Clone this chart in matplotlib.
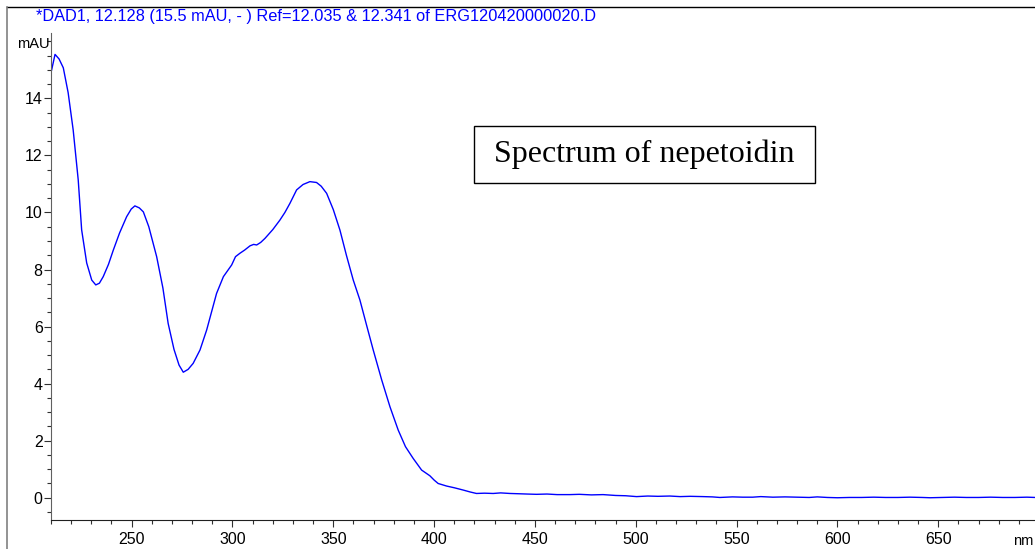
import matplotlib
matplotlib.use("Agg")
import matplotlib.pyplot as plt
from matplotlib.ticker import MultipleLocator
from matplotlib.lines import Line2D
from matplotlib.patches import Rectangle

# ---- data ----
wavelength = [210.3, 212.0, 214.0, 216.1, 218.5, 221.0, 223.5, 225.2, 227.7, 230.2,
              232.2, 234.0, 235.9, 238.5, 240.9, 244.0, 247.5, 249.8, 251.6, 253.8,
              255.8, 258.5, 262.4, 265.5, 268.1, 271.0, 273.5, 275.6, 278.0, 280.5,
              283.9, 287.2, 292.1, 295.5, 299.6, 301.5, 303.7, 306.0, 308.7, 310.5,
              312.0, 314.0, 316.1, 320.0, 323.5, 326.0, 328.5, 331.8, 335.0, 338.4,
              341.7, 344.0, 346.7, 350.0, 353.3, 356.5, 359.9, 363.2, 366.5, 369.8,
              374.0, 378.1, 382.2, 385.8, 389.6, 393.8, 397.9, 400.0, 402.0, 406.2,
              410.0, 414.4, 418.0, 421.0, 425.0, 429.3, 433.0, 437.6, 442.0, 446.0,
              450.8, 456.0, 461.0, 467.3, 472.0, 478.0, 483.8, 490.0, 495.0, 500.4,
              506.0, 511.0, 516.9, 522.0, 527.0, 533.4, 538.0, 541.7, 548.0, 553.0,
              558.0, 562.0, 568.0, 574.0, 580.0, 586.0, 590.0, 595.0, 600.0, 606.0,
              612.0, 618.0, 624.0, 630.0, 636.0, 642.0, 646.0, 652.0, 658.0, 664.0,
              670.0, 676.0, 682.0, 688.0, 694.0, 698.0]
absorbance = [14.99, 15.54, 15.38, 15.07, 14.20, 12.89, 11.14, 9.39, 8.23, 7.63,
              7.46, 7.52, 7.75, 8.18, 8.68, 9.28, 9.85, 10.12, 10.23, 10.16,
              10.02, 9.50, 8.45, 7.35, 6.11, 5.20, 4.65, 4.40, 4.50, 4.71,
              5.18, 5.88, 7.16, 7.75, 8.16, 8.45, 8.57, 8.68, 8.83, 8.88,
              8.86, 8.95, 9.09, 9.40, 9.73, 10.00, 10.32, 10.79, 10.98, 11.08,
              11.05, 10.92, 10.67, 10.10, 9.38, 8.50, 7.63, 6.93, 6.05, 5.18,
              4.13, 3.19, 2.37, 1.79, 1.38, 0.97, 0.77, 0.62, 0.50, 0.41,
              0.35, 0.27, 0.20, 0.15, 0.16, 0.15, 0.17, 0.15, 0.14, 0.13,
              0.12, 0.13, 0.11, 0.11, 0.12, 0.10, 0.11, 0.08, 0.07, 0.04,
              0.06, 0.05, 0.06, 0.04, 0.05, 0.04, 0.03, 0.01, 0.03, 0.02,
              0.02, 0.04, 0.02, 0.03, 0.02, 0.01, 0.03, 0.01, 0.00, 0.01,
              0.01, 0.02, 0.01, 0.01, 0.02, 0.01, 0.00, 0.01, 0.02, 0.01,
              0.01, 0.02, 0.01, 0.01, 0.02, 0.01]

title_text = "*DAD1, 12.128 (15.5 mAU, - ) Ref=12.035 & 12.341 of ERG120420000020.D"
box_text = "Spectrum of nepetoidin"
x_major = [250, 300, 350, 400, 450, 500, 550, 600, 650]
y_major = [0, 2, 4, 6, 8, 10, 12, 14]

W, H = 1035, 549
plt.rcParams['font.family'] = ['Liberation Sans', 'DejaVu Sans']
fig = plt.figure(figsize=(W / 100, H / 100), dpi=100)

ax_left, ax_right, ax_top, ax_bot = 51, 1035, 33, 520
ax = fig.add_axes([ax_left / W, 1 - ax_bot / H, (ax_right - ax_left) / W, (ax_bot - ax_top) / H])
ax.plot(wavelength, absorbance, color='#0000ff', lw=1.0)
ax.set_xlim(210, 698)
ax.set_ylim(-0.78, 16.29)

ax.spines['top'].set_visible(False)
ax.spines['right'].set_visible(False)
ax.spines['left'].set_color('#606060')
ax.spines['bottom'].set_color('#202020')
ax.set_xticks(x_major)
ax.set_yticks(y_major)
ax.xaxis.set_minor_locator(MultipleLocator(10))
ax.yaxis.set_minor_locator(MultipleLocator(0.5))
ax.tick_params(axis='both', which='major', length=5, width=0.8, labelsize=11.5, color='#303030')
ax.tick_params(axis='x', which='major', pad=4)
ax.tick_params(axis='y', which='major', pad=1)
ax.tick_params(axis='both', which='minor', length=3, width=0.8, color='#303030')

# figure frame lines
fig.add_artist(Line2D([7 / W, 1.0], [1 - 7 / H, 1 - 7 / H], color='black', lw=1.0))
fig.add_artist(Line2D([7 / W, 7 / W], [0, 1 - 7 / H], color='#808080', lw=1.2))

# title
fig.text(36 / W, 1 - 17 / H, title_text, color='#0000ff', fontsize=11.75, ha='left', va='center')
# axis labels
fig.text(50 / W, 1 - 44 / H, "mAU", color='black', fontsize=10.5, ha='right', va='center')
fig.text(1033 / W, 1 - 541 / H, "nm", color='black', fontsize=10.5, ha='right', va='center')

# annotation box
bx0, bx1, by0, by1 = 474, 815, 126, 183
fig.add_artist(Rectangle((bx0 / W, 1 - by1 / H), (bx1 - bx0) / W, (by1 - by0) / H,
                         fill=False, edgecolor='black', lw=1.0, transform=fig.transFigure))
fig.text((bx0 + bx1) / 2 / W, 1 - (by0 + by1) / 2 / H, box_text, fontsize=23,
         family=['Liberation Serif', 'DejaVu Serif'], ha='center', va='center')

fig.savefig("out.png", dpi=100, facecolor='white')
